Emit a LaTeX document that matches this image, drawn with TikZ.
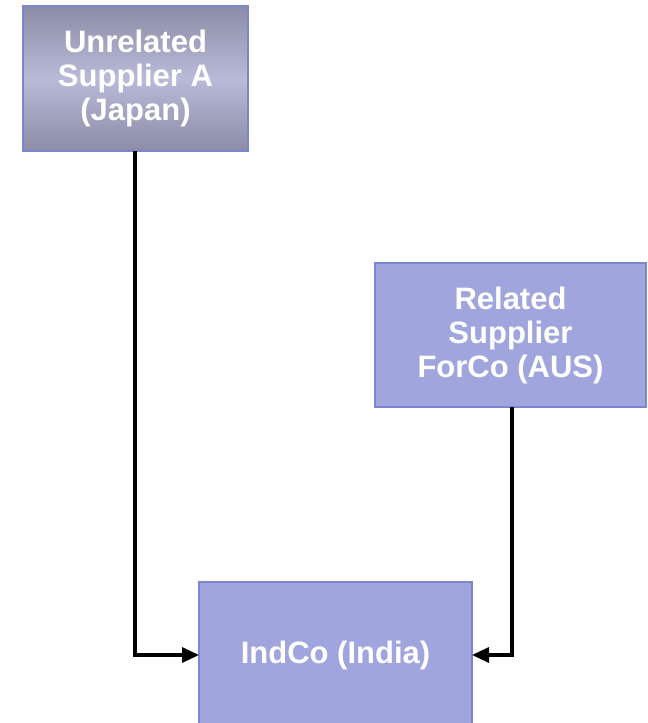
\documentclass[tikz,border=0pt]{standalone}
\usepackage{fontspec}
\setmainfont{Liberation Sans}
\usetikzlibrary{arrows.meta}
\definecolor{boxfill}{HTML}{A0A5DE}
\definecolor{boxedge}{HTML}{7F85CC}
\definecolor{gtop}{HTML}{8C8CA6}
\definecolor{gmid}{HTML}{B8BAD8}
\begin{document}
\begin{tikzpicture}[x=1pt,y=-1pt,
  lbl/.style={text=white,font=\bfseries\fontsize{31}{34}\selectfont,align=center},
  conn/.style={line width=3.2pt,-{Triangle[length=17pt,width=15pt]}}]
\useasboundingbox (0,0) rectangle (648,723);
\draw[boxedge,line width=1.2pt,top color=gtop,bottom color=gtop,middle color=gmid] (23,6) rectangle (248,151);
\node[lbl] (a) at (135.5,78) {Unrelated\\Supplier A\\(Japan)};
\coordinate (abot) at (135,151);
\draw[boxedge,line width=1.2pt,fill=boxfill] (375,263) rectangle (646,407);
\node[lbl] (b) at (510.5,335) {Related\\Supplier\\ForCo (AUS)};
\coordinate (bbot) at (512,407);
\draw[boxedge,line width=1.2pt,fill=boxfill] (199,582) rectangle (472,730);
\node[lbl] (c) at (335.5,655) {IndCo (India)};
\coordinate (cl) at (199,655);
\coordinate (cr) at (472,655);
\draw[conn] (abot) |- (cl);
\draw[conn] (bbot) |- (cr);
\end{tikzpicture}
\end{document}
